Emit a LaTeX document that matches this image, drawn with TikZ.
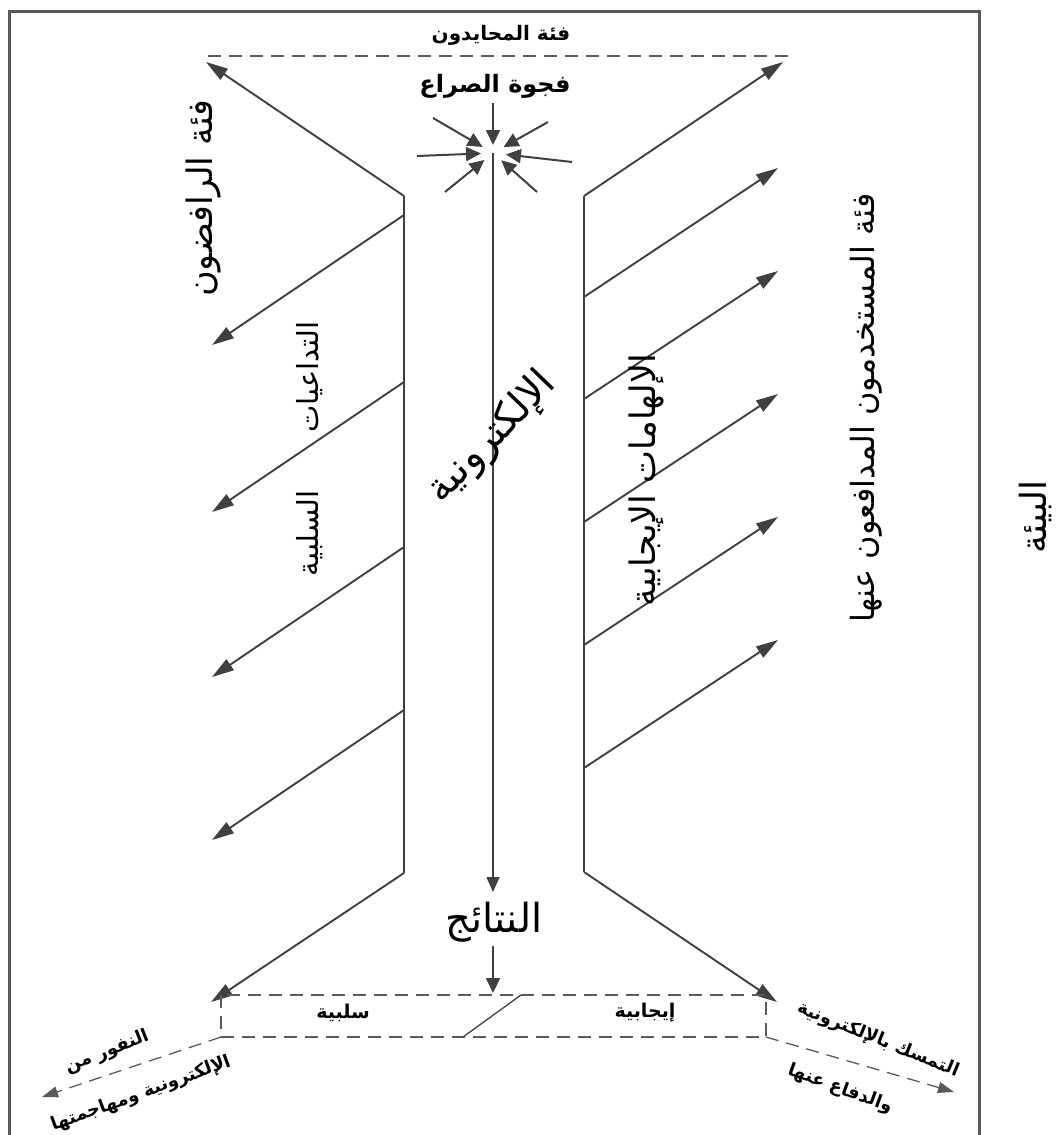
\documentclass[tikz,border=0pt]{standalone}
\usepackage{fontspec}
\usepackage{xcolor}
\usetikzlibrary{arrows.meta}
\newfontfamily\arabicfont[Script=Arabic]{DejaVu Sans}
\TeXXeTstate=1
\definecolor{line_gray}{HTML}{404040}
\definecolor{frame_gray}{HTML}{5A5A5A}

\tikzset{
  wall/.style={line_gray, line width=2.2pt},
  arr/.style={line_gray, line width=1.9pt, -{Triangle[length=22pt,width=13pt]}},
  small_arr/.style={line_gray, line width=2pt, -{Triangle[length=15pt,width=14pt]}},
  dash_line/.style={frame_gray, line width=1.3pt, dash pattern=on 13pt off 8pt},
  big_txt/.style={font=\arabicfont\fontsize{32}{36}\selectfont, inner sep=0pt},
  bold_txt/.style={font=\arabicfont\bfseries\fontsize{18}{21}\selectfont, inner sep=0pt},
}

\begin{document}
\begin{tikzpicture}[x=1pt, y=-1pt]
  \useasboundingbox (0,0) rectangle (1063,1135);

  % Cadre
  \draw[frame_gray, line width=3pt] (9,1137) -- (9,11) -- (979,11) -- (979,1137);

  % Points
  \coordinate (wall_lt) at (404,196);
  \coordinate (wall_lb) at (404,873);
  \coordinate (wall_rt) at (584,196);
  \coordinate (wall_rb) at (584,872);
  \coordinate (tip_tl) at (206,62);
  \coordinate (tip_tr) at (783,62);
  \coordinate (tip_bl) at (211,1002);
  \coordinate (tip_br) at (777,1002);
  \coordinate (core) at (493,153);
  \coordinate (res_tip) at (493,892);
  \coordinate (box_tip) at (493,993);
  \coordinate (neutral_l) at (208,56);
  \coordinate (neutral_r) at (788,56);

  % Murs
  \draw[wall] (wall_lt) -- (wall_lb);
  \draw[wall] (wall_rt) -- (wall_rb);
  \draw[arr] (wall_lt) -- (tip_tl);
  \draw[arr] (wall_rt) -- (tip_tr);
  \draw[arr] (wall_lb) -- (tip_bl);
  \draw[arr] (wall_rb) -- (tip_br);
  \draw[dash_line] (neutral_l) -- (neutral_r);

  % Branches gauche
  \coordinate (l1_s) at (404,215);
  \coordinate (l1_e) at (212,345);
  \coordinate (l2_s) at (404,382);
  \coordinate (l2_e) at (212,512);
  \coordinate (l3_s) at (404,547);
  \coordinate (l3_e) at (212,677);
  \coordinate (l4_s) at (404,710);
  \coordinate (l4_e) at (212,840);
  \draw[arr] (l1_s) -- (l1_e);
  \draw[arr] (l2_s) -- (l2_e);
  \draw[arr] (l3_s) -- (l3_e);
  \draw[arr] (l4_s) -- (l4_e);

  % Branches droite
  \coordinate (r1_s) at (584,297);
  \coordinate (r1_e) at (778,168);
  \coordinate (r2_s) at (584,399);
  \coordinate (r2_e) at (778,271);
  \coordinate (r3_s) at (584,522);
  \coordinate (r3_e) at (778,394);
  \coordinate (r4_s) at (584,645);
  \coordinate (r4_e) at (778,517);
  \coordinate (r5_s) at (584,768);
  \coordinate (r5_e) at (778,640);
  \draw[arr] (r1_s) -- (r1_e);
  \draw[arr] (r2_s) -- (r2_e);
  \draw[arr] (r3_s) -- (r3_e);
  \draw[arr] (r4_s) -- (r4_e);
  \draw[arr] (r5_s) -- (r5_e);

  % Etoile
  \coordinate (s_n) at (493,103);
  \coordinate (s_nw) at (433,118);
  \coordinate (s_ne) at (548,122);
  \coordinate (s_w) at (417,156);
  \coordinate (s_e) at (572,162);
  \coordinate (s_sw) at (445,192);
  \coordinate (s_se) at (537,192);
  \draw[small_arr, shorten >=8pt] (s_n) -- (core);
  \draw[small_arr, shorten >=12pt] (s_nw) -- (core);
  \draw[small_arr, shorten >=12pt] (s_ne) -- (core);
  \draw[small_arr, shorten >=12pt] (s_w) -- (core);
  \draw[small_arr, shorten >=13pt] (s_e) -- (core);
  \draw[small_arr, shorten >=11pt] (s_sw) -- (core);
  \draw[small_arr, shorten >=11pt] (s_se) -- (core);
  \draw[line_gray, line width=1.6pt, -{Triangle[length=15pt,width=13pt]}] (core) -- (res_tip);

  % Textes
  \node[bold_txt, font=\arabicfont\bfseries\fontsize{20}{23}\selectfont] (neutral) at (501,35) {\beginR فئة المحايدون\endR};
  \node[bold_txt, font=\arabicfont\bfseries\fontsize{24}{27}\selectfont] (gap) at (495,86) {\beginR فجوة الصراع\endR};
  \node[big_txt, font=\arabicfont\fontsize{35}{39}\selectfont, rotate=90] (reject) at (203,198) {\beginR فئة الرافضون\endR};
  \node[big_txt, rotate=90] (users) at (866,408) {\beginR فئة المستخدمون المدافعون عنها\endR};
  \node[big_txt, font=\arabicfont\fontsize{29}{33}\selectfont, rotate=90] (negative) at (310,449) {\beginR التداعيات\hspace{58pt}السلبية\endR};
  \node[big_txt, font=\arabicfont\fontsize{35}{39}\selectfont, rotate=90] (positive) at (646,480) {\beginR الإلهامات الإيجابية\endR};
  \node[big_txt, font=\arabicfont\fontsize{40}{44}\selectfont, rotate=46] (electronic) at (492,438) {\beginR الإلكترونية\endR};
  \node[big_txt, font=\arabicfont\fontsize{40}{44}\selectfont] (results) at (494,922) {\beginR النتائج\endR};
  \node[big_txt, font=\arabicfont\fontsize{36}{40}\selectfont, rotate=90] (env) at (1035,517) {\beginR البيئة\endR};

  % Resultats
  \coordinate (box_tl) at (221,995);
  \coordinate (box_br) at (766,1037);
  \coordinate (box_bl) at (221,1037);
  \coordinate (slash_b) at (463,1037);
  \coordinate (slash_t) at (521,995);
  \coordinate (out_l) at (42,1097);
  \coordinate (out_r) at (954,1092);
  \coordinate (res_out) at (493,946);
  \draw[small_arr] (res_out) -- (box_tip);
  \draw[dash_line] (box_tl) rectangle (box_br);
  \draw[line_gray, line width=1.3pt] (slash_b) -- (slash_t);
  \draw[dash_line, -{Triangle[length=16pt,width=11pt]}] (box_bl) -- (out_l);
  \draw[dash_line, -{Triangle[length=16pt,width=11pt]}] (box_br) -- (out_r);
  \node[bold_txt, font=\arabicfont\bfseries\fontsize{19}{22}\selectfont] (neg_box) at (343,1013) {\beginR سلبية\endR};
  \node[bold_txt, font=\arabicfont\bfseries\fontsize{19}{22}\selectfont] (pos_box) at (645,1013) {\beginR إيجابية\endR};
  \node[bold_txt, rotate=22] (flee_a) at (107,1052) {\beginR النفور من\endR};
  \node[bold_txt, rotate=20] (flee_b) at (141,1094) {\beginR الإلكترونية ومهاجمتها\endR};
  \node[bold_txt, rotate=-22] (hold_a) at (878,1040) {\beginR التمسك بالإلكترونية\endR};
  \node[bold_txt, rotate=-20] (hold_b) at (840,1089) {\beginR والدفاع عنها\endR};
\end{tikzpicture}
\end{document}
